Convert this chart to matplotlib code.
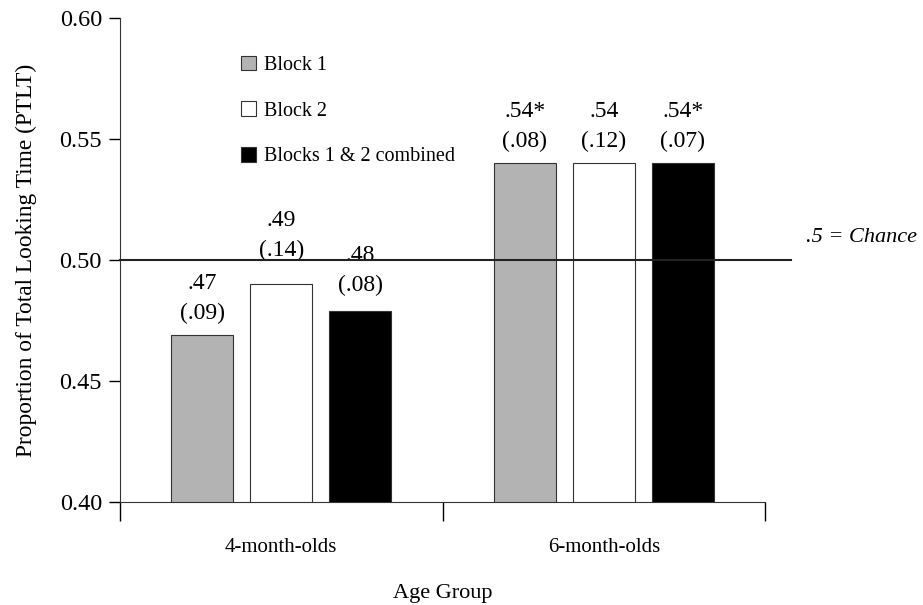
import matplotlib
matplotlib.use('Agg')
import matplotlib.pyplot as plt
from matplotlib.patches import Patch
import numpy as np

groups = ['4-month-olds', '6-month-olds']
series = ['Block 1', 'Block 2', 'Blocks 1 & 2 combined']
means = [[0.469, 0.54], [0.49, 0.54], [0.479, 0.54]]
mean_labels = [['.47', '.54*'], ['.49', '.54'], ['.48', '.54*']]
sd_labels = [['(.09)', '(.08)'], ['(.14)', '(.12)'], ['(.08)', '(.07)']]
colors = ['#b3b3b3', 'white', 'black']
chance = 0.5

# extra lift (points) for labels that sit near the chance line
nudge = [[0, 0], [9, 0], [3, 0]]

plt.rcParams['font.family'] = ['Liberation Serif', 'DejaVu Serif']

fig = plt.figure(figsize=(9.23, 6.05), dpi=100)
ax = fig.add_axes([0.130, 0.170, 0.699, 0.800])

x = np.array([0.5, 1.5])
w = 0.192
step = 0.245
for i in range(3):
    xs = x + (i - 1) * step
    ax.bar(xs, means[i], w, bottom=0, color=colors[i], edgecolor='#333333', linewidth=0.8, zorder=2)
    for j in range(2):
        ax.annotate(mean_labels[i][j] + '\n' + sd_labels[i][j], (xs[j], means[i][j]),
                    xytext=(0, 8 + nudge[i][j]), textcoords='offset points', ha='center', va='bottom',
                    fontsize=17, linespacing=1.55)

# chance line runs a bit past the axis
ax.plot([0, 2.08], [chance, chance], color='#222222', lw=1.5, clip_on=False, zorder=3)
ax.annotate('.5 = Chance', (2.08, chance), xytext=(11, 16), textcoords='offset points',
            fontsize=16, style='italic', va='center', ha='left', annotation_clip=False)

ax.set_xlim(0, 2)
ax.set_ylim(0.40, 0.60)
ax.set_yticks([0.40, 0.45, 0.50, 0.55, 0.60])
ax.set_yticklabels(['0.40', '0.45', '0.50', '0.55', '0.60'], fontsize=17.5)
ax.set_xticks([0, 1, 2])
ax.set_xticklabels([])
ax.set_xticks(x, minor=True)
ax.set_xticklabels(groups, minor=True, fontsize=15)
ax.tick_params(axis='x', which='minor', length=0, pad=26)
ax.tick_params(axis='x', which='major', length=14, direction='out', width=1)
ax.tick_params(axis='y', length=8, width=1, pad=5)

for s in ['top', 'right']:
    ax.spines[s].set_visible(False)
for s in ['left', 'bottom']:
    ax.spines[s].set_color('#333333')

ax.set_ylabel('Proportion of Total Looking Time (PTLT)', fontsize=16.8, labelpad=16)
ax.set_xlabel('Age Group', fontsize=16, labelpad=19)

handles = [Patch(facecolor=c, edgecolor='#333333', linewidth=0.8) for c in colors]
ax.legend(handles, series, loc='upper left', bbox_to_anchor=(0.159, 0.96), frameon=False,
          fontsize=14.5, handlelength=0.75, handleheight=0.75, handletextpad=0.4, labelspacing=1.3)

fig.savefig('out.png', dpi=100)
